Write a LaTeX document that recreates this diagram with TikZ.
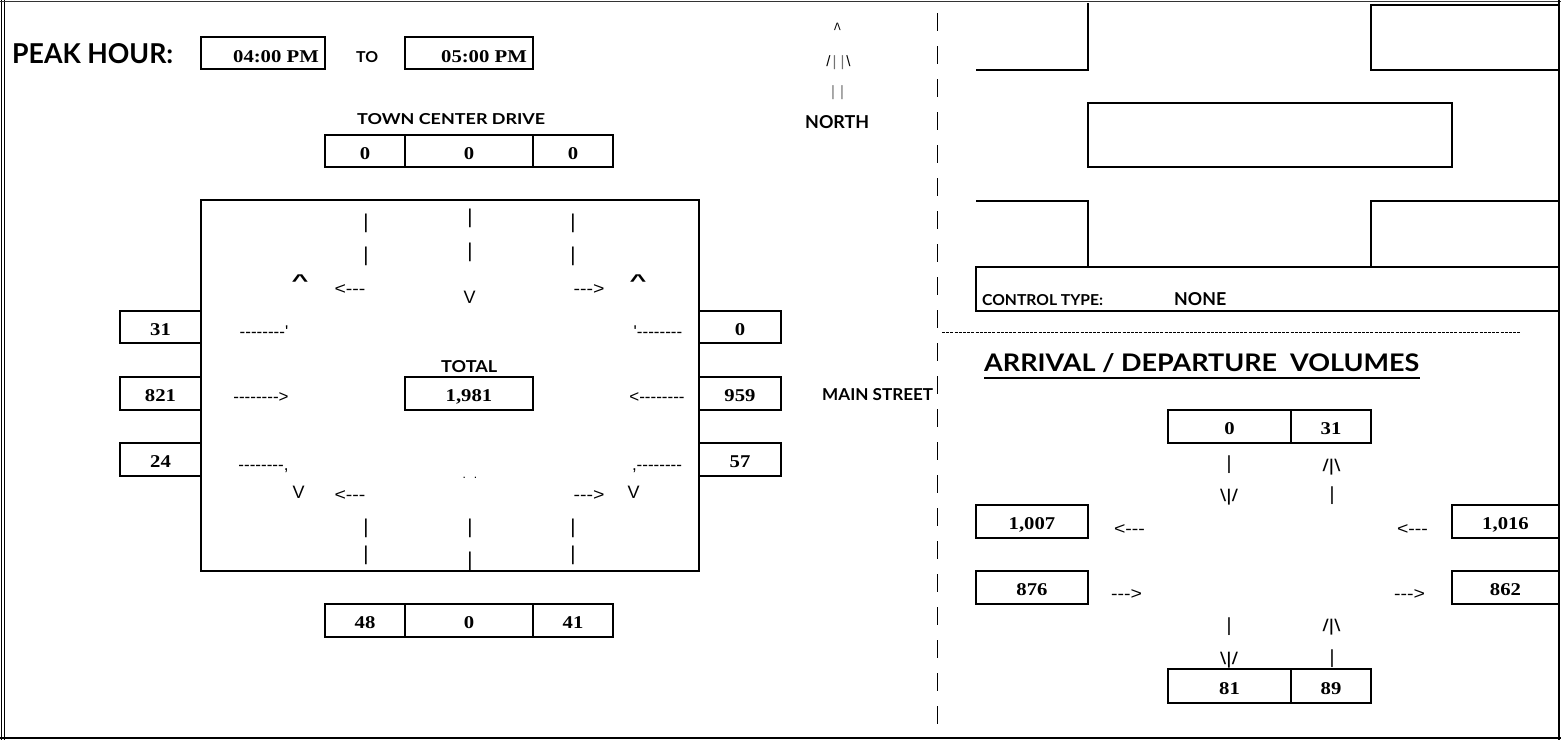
\documentclass[tikz,border=0pt]{standalone}
\usepackage{fontspec}
\usepackage{graphicx}
\newfontfamily\labfont{Lato}
\newfontfamily\numfont{Liberation Serif}
\newfontfamily\ascfont[Ligatures=TeXOff]{Liberation Sans}
\newcommand\nm[1]{{\numfont\bfseries\fontsize{18}{18}\selectfont\scalebox{1.15}[1]{#1}}}
\newcommand\lb[3]{\resizebox{#1pt}{#2pt}{\labfont\bfseries #3}}
\newcommand\asc[2][17]{{\ascfont\fontsize{#1}{#1}\selectfont #2}}
\newcommand\bs{\textbackslash}
\begin{document}
\begin{tikzpicture}[x=1pt,y=-1pt,
  nbox/.style={draw, line width=1.8pt, inner sep=0pt, text height=16pt, text depth=0pt},
  emptybox/.style={draw, line width=1.8pt, inner sep=0pt},
  tx/.style={inner sep=0pt, anchor=base},
  lbl/.style={inner sep=0pt, anchor=base west},
  bline/.style={line width=1.8pt},
  fline/.style={line width=0.9pt},
  vbar/.style={inner sep=0pt, anchor=base}]
\useasboundingbox (0,0) rectangle (1561,740);
% frame
\draw[fline] (1.5,0) -- (1.5,740);
\draw[fline] (4.5,0) -- (4.5,740);
\draw[line width=1.4pt, black!80] (0,1.2) -- (1561,1.2);
\draw[bline] (0,738) -- (1561,738);
\draw[bline] (1559,0) -- (1559,740);
\draw[line width=1pt, dash pattern=on 18pt off 15pt] (937,13) -- (937,737);

% ---- header
\node[lbl] (peak) at (12,63) {\lb{161}{20}{PEAK HOUR:}};
\node[emptybox, minimum width=124pt, minimum height=32pt] (tb1) at (263,53) {};
\node[tx, anchor=base east] (t1) at (319,62) {\nm{04:00 PM}};
\node[lbl] (to) at (356,62) {\lb{22}{11}{TO}};
\node[emptybox, minimum width=128pt, minimum height=32pt] (tb2) at (469,53) {};
\node[tx, anchor=base east] (t2) at (527,62) {\nm{05:00 PM}};

\node[lbl] (tcd) at (357,124) {\lb{188}{11}{TOWN CENTER DRIVE}};
\node[nbox, minimum width=80pt, minimum height=32pt] (n1) at (365,151) {\nm{0}};
\node[nbox, minimum width=128pt, minimum height=32pt] (n2) at (469,151) {\nm{0}};
\node[nbox, minimum width=80pt, minimum height=32pt] (n3) at (573,151) {\nm{0}};

% ---- big box
\node[emptybox, minimum width=498pt, minimum height=371pt] (big) at (450,385.5) {};
\node[nbox, minimum width=81pt, minimum height=32pt] (w1) at (160.5,327) {\nm{31}};
\node[nbox, minimum width=81pt, minimum height=33pt] (w2) at (160.5,393.5) {\nm{821}};
\node[nbox, minimum width=81pt, minimum height=33pt] (w3) at (160.5,459.5) {\nm{24}};
\node[nbox, minimum width=82pt, minimum height=32pt] (e1) at (740,327) {\nm{0}};
\node[nbox, minimum width=82pt, minimum height=33pt] (e2) at (740,393.5) {\nm{959}};
\node[nbox, minimum width=82pt, minimum height=33pt] (e3) at (740,459.5) {\nm{57}};
\node[lbl] (total) at (441,372) {\lb{56}{12}{TOTAL}};
\node[nbox, minimum width=128pt, minimum height=33pt] (tot) at (469,393.5) {\nm{1,981}};
\node[nbox, minimum width=80pt, minimum height=33pt] (s1) at (365,620.5) {\nm{48}};
\node[nbox, minimum width=128pt, minimum height=33pt] (s2) at (469,620.5) {\nm{0}};
\node[nbox, minimum width=80pt, minimum height=33pt] (s3) at (573,620.5) {\nm{41}};

% ---- ascii art inside the big box
\node[vbar] (b1) at (366,228) {\asc[20]{|}};
\node[vbar] (b2) at (366,261) {\asc[20]{|}};
\node[vbar] (b3) at (470,223) {\asc[20]{|}};
\node[vbar] (b4) at (470,257) {\asc[20]{|}};
\node[vbar] (b5) at (573,228) {\asc[20]{|}};
\node[vbar] (b6) at (573,261) {\asc[20]{|}};
\node[tx] (c1) at (300,286) {\scalebox{1.7}[1]{\asc{\bfseries\textasciicircum}}};
\node[tx] (c2) at (638,286) {\scalebox{1.7}[1]{\asc{\bfseries\textasciicircum}}};
\node[tx] (a1) at (350,294) {\scalebox{1.15}[1]{\asc{<---}}};
\node[tx] (a2) at (589,294) {\scalebox{1.15}[1]{\asc{--->}}};
\node[tx] (v1) at (469.5,303) {\asc[18]{V}};
\node[tx] (r1) at (264,337) {\asc{--------'}};
\node[tx] (r2) at (658,337) {\asc{'--------}};
\node[tx] (r3) at (261,402) {\asc{-------->}};
\node[tx] (r4) at (657,402) {\asc{<--------}};
\node[tx] (r5) at (263.5,470) {\asc{--------,}};
\node[tx] (r6) at (657,470) {\asc{,--------}};
\node[tx] (dots) at (470,478) {\asc[12]{.\kern8pt.}};
\node[tx] (v2) at (298.5,498) {\asc[18]{V}};
\node[tx] (a3) at (350,500) {\scalebox{1.15}[1]{\asc{<---}}};
\node[tx] (a4) at (589,500) {\scalebox{1.15}[1]{\asc{--->}}};
\node[tx] (v3) at (633.5,498) {\asc[18]{V}};
\node[vbar] (b7) at (366,533) {\asc[20]{|}};
\node[vbar] (b8) at (366,560) {\asc[20]{|}};
\node[vbar] (b9) at (470,533) {\asc[20]{|}};
\node[vbar] (b10) at (470,566) {\asc[20]{|}};
\node[vbar] (b11) at (573,533) {\asc[20]{|}};
\node[vbar] (b12) at (573,560) {\asc[20]{|}};

% ---- north arrow and street names
\node[tx] (na) at (837.5,30) {\scalebox{1.3}[1]{\asc[10]{/\kern-0.5pt\bs}}};
\node[tx] (nb) at (838.5,66) {\asc[15]{/\kern2pt\textcolor{black!55}{|}\kern4pt\textcolor{black!55}{|}\kern2pt\bs}};
\node[tx] (nc) at (837.5,96) {\asc[15]{\textcolor{black!55}{|\kern5pt|}}};
\node[lbl] (north) at (805,128) {\lb{64}{13}{NORTH}};
\node[lbl] (main) at (822,400) {\lb{111}{12}{MAIN STREET}};

% ---- right panel top shapes
\draw[bline] (976,70) -- (1088,70) -- (1088,3);
\node[emptybox, minimum width=188pt, minimum height=65pt] (tr) at (1465,37.5) {};
\node[emptybox, minimum width=364pt, minimum height=64pt] (mid) at (1270,135) {};
\draw[bline] (976,201) -- (1088,201) -- (1088,267);
\draw[bline] (1559,201) -- (1371,201) -- (1371,267);
\node[emptybox, minimum width=583pt, minimum height=44pt] (ctl) at (1267.5,289) {};
\node[lbl] (ctlt) at (982,305) {\lb{121}{11}{CONTROL TYPE:}};
\node[lbl] (none) at (1174,305) {\lb{52}{13}{NONE}};
\draw[line width=1pt, dash pattern=on 3pt off 1.2pt] (942,332) -- (1520,332);

% ---- arrival / departure
\node[lbl] (adv) at (984,371) {\lb{435}{18}{ARRIVAL / DEPARTURE\ \ VOLUMES}};
\draw[line width=2pt] (984,377.5) -- (1420,377.5);
\node[nbox, minimum width=123pt, minimum height=33pt] (p1) at (1229.5,426.5) {\nm{0}};
\node[nbox, minimum width=80pt, minimum height=33pt] (p2) at (1331,426.5) {\nm{31}};
\node[vbar] (q1) at (1229,469) {\asc[19]{|}};
\node[tx] (q2) at (1331.5,471) {\scalebox{1.3}[1]{\asc{/|\bs}}};
\node[tx] (q3) at (1229,501) {\scalebox{1.3}[1]{\asc{\bs|/}}};
\node[vbar] (q4) at (1332,500) {\asc[19]{|}};
\node[nbox, minimum width=112pt, minimum height=33pt] (p3) at (1032,521.5) {\nm{1,007}};
\node[tx] (q5) at (1129.5,534) {\scalebox{1.15}[1]{\asc{<---}}};
\node[tx] (q6) at (1412.5,534) {\scalebox{1.15}[1]{\asc{<---}}};
\node[nbox, minimum width=107pt, minimum height=33pt] (p4) at (1505.5,521.5) {\nm{1,016}};
\node[nbox, minimum width=112pt, minimum height=33pt] (p5) at (1032,587.5) {\nm{876}};
\node[tx] (q7) at (1126.5,599) {\scalebox{1.15}[1]{\asc{--->}}};
\node[tx] (q8) at (1409.5,599) {\scalebox{1.15}[1]{\asc{--->}}};
\node[nbox, minimum width=107pt, minimum height=33pt] (p6) at (1505.5,587.5) {\nm{862}};
\node[vbar] (q9) at (1229,631) {\asc[19]{|}};
\node[tx] (q10) at (1331.5,631) {\scalebox{1.3}[1]{\asc{/|\bs}}};
\node[tx] (q11) at (1229,664) {\scalebox{1.3}[1]{\asc{\bs|/}}};
\node[vbar] (q12) at (1332,663) {\asc[19]{|}};
\node[nbox, minimum width=123pt, minimum height=34pt] (p7) at (1229.5,686) {\nm{81}};
\node[nbox, minimum width=80pt, minimum height=34pt] (p8) at (1331,686) {\nm{89}};
\end{tikzpicture}
\end{document}
